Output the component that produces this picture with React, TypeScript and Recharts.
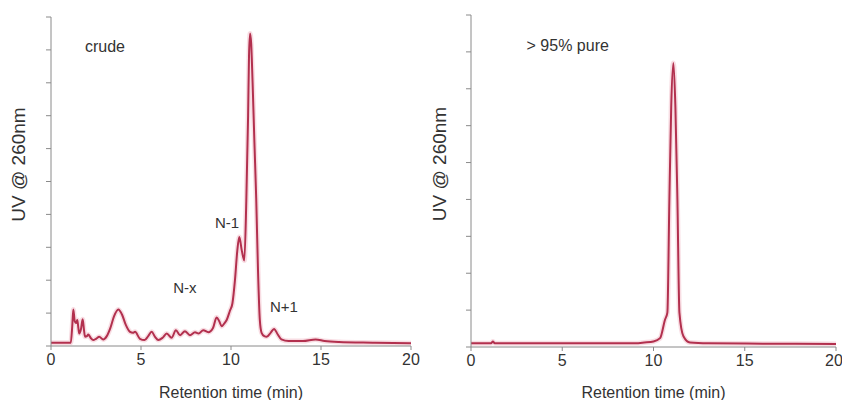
import { LineChart, Line, XAxis, YAxis, ReferenceDot } from "recharts";

// retention time (min) and UV @ 260nm
const crudeTime = [0, 1.1, 1.18, 1.24, 1.32, 1.4, 1.46, 1.52, 1.57, 1.66, 1.76, 1.83, 1.89, 2.0, 2.07, 2.2, 2.35, 2.5, 2.68, 2.9, 3.1, 3.3, 3.5, 3.74, 3.95, 4.15, 4.39, 4.55, 4.67, 4.94, 5.2, 5.4, 5.59, 5.78, 5.96, 6.2, 6.43, 6.7, 6.94, 7.17, 7.44, 7.72, 8.0, 8.2, 8.46, 8.74, 9.0, 9.2, 9.35, 9.48, 9.62, 9.76, 9.94, 10.08, 10.22, 10.35, 10.46, 10.6, 10.74, 10.85, 10.95, 11.0, 11.06, 11.12, 11.2, 11.3, 11.4, 11.5, 11.6, 11.7, 11.85, 11.98, 12.2, 12.39, 12.6, 12.8, 13.2, 14.0, 14.7, 15.2, 16.0, 18.0, 20.0];
const crudeUV = [0.1, 0.1, 0.6, 1.11, 0.75, 0.7, 0.79, 0.55, 0.38, 0.5, 0.81, 0.5, 0.28, 0.3, 0.35, 0.25, 0.18, 0.22, 0.28, 0.2, 0.3, 0.55, 0.9, 1.11, 0.95, 0.65, 0.43, 0.4, 0.43, 0.22, 0.18, 0.3, 0.43, 0.28, 0.18, 0.25, 0.38, 0.25, 0.48, 0.33, 0.45, 0.33, 0.42, 0.38, 0.48, 0.42, 0.55, 0.87, 0.75, 0.6, 0.68, 0.79, 1.07, 1.3, 2.0, 2.9, 3.31, 2.9, 2.6, 4.4, 7.0, 8.8, 9.5, 9.2, 8.0, 6.2, 4.5, 2.3, 0.8, 0.4, 0.3, 0.28, 0.4, 0.52, 0.35, 0.2, 0.15, 0.15, 0.2, 0.15, 0.12, 0.1, 0.08];

const pureTime = [0, 1.1, 1.2, 1.3, 1.6, 5, 9, 9.5, 10.0, 10.36, 10.63, 10.76, 10.87, 10.97, 11.09, 11.2, 11.31, 11.42, 11.64, 12.0, 13.0, 16.0, 20.0];
const pureUV = [0.1, 0.1, 0.15, 0.1, 0.1, 0.1, 0.1, 0.12, 0.15, 0.24, 0.74, 0.93, 4.0, 6.5, 7.7, 6.5, 4.0, 0.93, 0.29, 0.12, 0.1, 0.09, 0.08];

const xTicks = [0, 5, 10, 15, 20];
const crudeYTicks = [0, 1, 2, 3, 4, 5, 6, 7, 8, 9, 10];
const pureYTicks = [0, 1, 2, 3, 4, 5, 6, 7, 8, 9];

const crudeNotes = [
    { x: 3.0, y: 9.12, text: "crude", size: 16 },
    { x: 9.78, y: 3.76, text: "N-1", size: 15 },
    { x: 7.44, y: 1.76, text: "N-x", size: 15 },
    { x: 12.94, y: 1.21, text: "N+1", size: 15 },
];
const pureNotes = [{ x: 5.3, y: 8.19, text: "> 95% pure", size: 16 }];

const LINE = "#b2304e";
const AXIS = "#8a8a8a";
const TEXT = "#333";
const FONT = "'Liberation Sans', Arial, sans-serif";

// rotated y title, sits a bit above the middle of the axis like the original
function YTitle({ viewBox }: any) {
    const x = viewBox.x + 18;
    const y = viewBox.y + viewBox.height / 2 - 17;
    return (
        <text
            x={x}
            y={y}
            transform={`rotate(-90, ${x}, ${y})`}
            textAnchor="middle"
            dominantBaseline="central"
            fill={TEXT}
            fontSize={19}
            fontFamily={FONT}
        >
            UV @ 260nm
        </text>
    );
}

function Chromatogram({ time, uv, yMax, yTicks, notes, width, margin, yWidth, xHeight }: any) {
    const data = time.map((t: number, i: number) => ({ t, uv: uv[i] }));
    return (
        <LineChart width={width} height={400} data={data} margin={margin}>
            <XAxis
                dataKey="t"
                type="number"
                domain={[0, 20]}
                ticks={xTicks}
                height={xHeight}
                stroke={AXIS}
                tickSize={4}
                tickMargin={4}
                tick={{ fill: TEXT, fontSize: 16, fontFamily: FONT }}
                label={{ value: "Retention time (min)", position: "insideBottom", offset: 2, fill: TEXT, fontSize: 16, fontFamily: FONT }}
            />
            <YAxis
                type="number"
                domain={[0, yMax]}
                ticks={yTicks}
                width={yWidth}
                stroke={AXIS}
                tickSize={5}
                tickFormatter={() => ""}
                label={{ content: (p: any) => <YTitle viewBox={{ ...p.viewBox, x: 0 }} /> }}
            />
            <Line type="monotone" dataKey="uv" stroke="#f3c6d1" strokeWidth={5} strokeOpacity={0.6} dot={false} isAnimationActive={false} />
            <Line type="monotone" dataKey="uv" stroke={LINE} strokeWidth={2} dot={false} isAnimationActive={false} />
            {notes.map((n: any) => (
                <ReferenceDot
                    key={n.text}
                    x={n.x}
                    y={n.y}
                    r={0}
                    fill="none"
                    stroke="none"
                    label={{ value: n.text, position: "center", fill: TEXT, fontSize: n.size, fontFamily: FONT }}
                />
            ))}
        </LineChart>
    );
}

export default function App() {
    return (
        <div style={{ position: "fixed", left: 0, top: 0, width: 842, height: 400, background: "#fff", display: "flex" }}>
            <Chromatogram
                time={crudeTime}
                uv={crudeUV}
                yMax={10}
                yTicks={crudeYTicks}
                notes={crudeNotes}
                width={421}
                margin={{ top: 17, right: 10, bottom: 0, left: 0 }}
                yWidth={51}
                xHeight={54}
            />
            <Chromatogram
                time={pureTime}
                uv={pureUV}
                yMax={9}
                yTicks={pureYTicks}
                notes={pureNotes}
                width={421}
                margin={{ top: 15, right: 6, bottom: 0, left: 0 }}
                yWidth={50}
                xHeight={53}
            />
        </div>
    );
}
